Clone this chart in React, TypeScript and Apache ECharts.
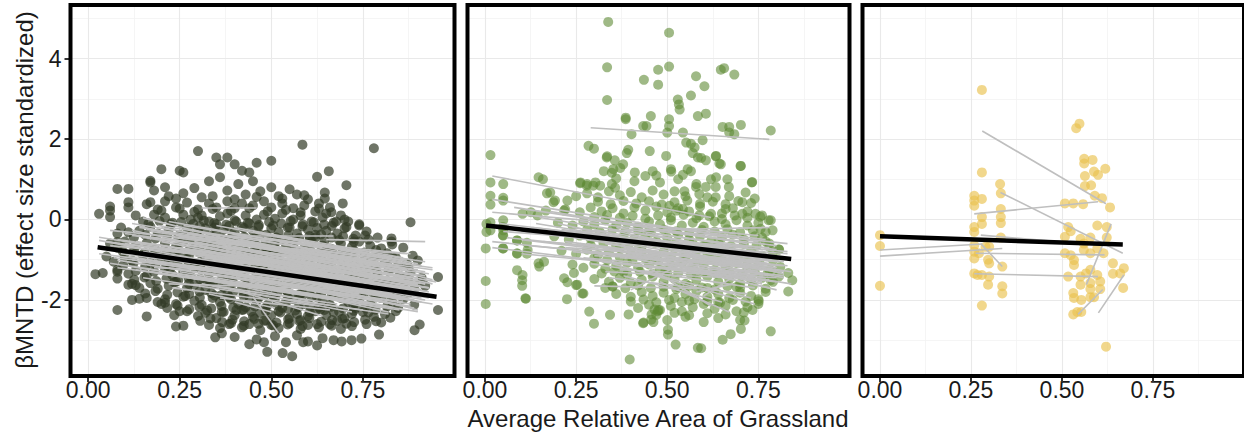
import React, { useEffect, useRef } from "react";
import * as echarts from "echarts";

const X_MIN = -0.048;
const X_MAX = 1.0;
const Y_MIN = -3.89;
const Y_MAX = 5.33;
const X_TICKS = [0, 0.25, 0.5, 0.75];
const X_MINOR = [0.125, 0.375, 0.625, 0.875];
const Y_TICKS = [-2, 0, 2, 4];
const Y_MINOR = [-3, -1, 1, 3, 5];
const Y_TITLE = "βMNTD (effect size standardized)";
const X_TITLE = "Average Relative Area of Grassland";

// Panel 1 points (dark olive)
const P1_POINTS: [number, number][] = [
  [0.03,0.14],[0.02,-1.36],[0.04,-1.33],[0.06,0.32],[0.06,0.22],[0.06,0.06],[0.08,0.76],[0.08,-0.35],[0.08,-0.56],[0.08,-2.25],
  [0.08,-1.30],[0.08,-1.47],[0.11,0.76],[0.11,0.43],[0.11,0.30],[0.12,-2.0],[0.14,-1.97],[0.13,-1.63],[0.12,-1.60],[0.16,-2.41],
  [0.17,0.96],[0.17,0.92],[0.17,0.43],[0.18,0.72],[0.2,1.25],[0.21,0.80],[0.25,1.21],[0.26,1.17],[0.30,1.70],[0.235,-2.38],
  [0.25,-2.28],[0.24,-2.66],[0.26,-2.64],[0.20,-2.10],[0.21,-2.07],[0.35,1.54],[0.36,1.37],[0.38,1.54],[0.40,1.37],[0.42,1.21],
  [0.44,1.17],[0.46,1.41],[0.50,1.46],[0.585,1.86],[0.78,1.77],[0.625,1.06],[0.657,1.20],[0.705,0.85],[0.695,0.40],[0.74,-0.12],
  [0.70,0.0],[0.88,-0.07],[0.886,-0.90],[0.955,-1.43],[0.955,-2.25],[0.891,-2.75],[0.905,-2.61],[0.794,-2.86],[0.692,-3.03],[0.719,-3.0],
  [0.746,-2.96],[0.489,-3.29],[0.531,-3.32],[0.557,-3.40],[0.44,-3.10],[0.347,-2.93],[0.365,-2.83],[0.587,-3.05],[0.625,-3.13],[0.60,-3.03],
  [0.86,-1.67],[0.87,-1.42],[0.828,-0.47],[0.828,-0.55],[0.646,0.67],[0.646,0.52],[0.664,0.18],[0.80,-2.56],[0.825,-2.44],[0.83,-0.93],
  [0.33,0.95],[0.36,1.05],[0.38,0.72],[0.41,0.88],[0.43,0.62],[0.45,0.95],[0.47,0.70],[0.50,0.80],[0.52,0.58],[0.55,0.75],
  [0.57,0.62],[0.26,0.65],[0.29,0.78],[0.31,0.55],[0.22,0.58],[0.60,0.50],[0.63,0.40],[0.66,0.30],
  [0.16,0.38],[0.19,0.25],[0.21,0.45],[0.24,0.30],[0.27,0.42],[0.30,0.25],[0.33,0.40],[0.35,0.30],[0.38,0.45],[0.40,0.28],
  [0.42,0.40],[0.45,0.35],[0.48,0.45],[0.50,0.30],[0.53,0.40],[0.56,0.28],[0.59,0.35],[0.62,0.20],[0.65,0.15],[0.69,0.10],
  [0.13,0.10],[0.15,-0.05],[0.18,0.12],[0.21,0.05],[0.23,-0.08],[0.26,0.12],[0.28,0.0],[0.31,0.10],[0.33,-0.05],[0.36,0.08],
  [0.38,0.15],[0.40,-0.02],[0.43,0.10],[0.46,0.0],[0.48,0.12],[0.51,0.02],[0.53,0.15],[0.56,0.0],[0.58,0.10],[0.61,-0.05],
  [0.64,0.05],[0.67,-0.08],[0.71,-0.05],[0.74,-0.15],
  [0.09,-0.20],[0.11,-0.32],[0.14,-0.28],[0.17,-0.18],[0.19,-0.35],[0.22,-0.25],[0.25,-0.38],[0.27,-0.20],[0.30,-0.30],[0.32,-0.22],
  [0.35,-0.35],[0.37,-0.25],[0.40,-0.32],[0.42,-0.18],[0.45,-0.28],[0.47,-0.38],[0.50,-0.22],[0.52,-0.32],[0.55,-0.20],[0.57,-0.35],
  [0.60,-0.25],[0.62,-0.38],[0.65,-0.28],[0.68,-0.35],[0.70,-0.22],[0.73,-0.40],[0.76,-0.30],[0.79,-0.45],
  [0.06,-0.60],[0.08,-0.70],[0.10,-0.55],[0.13,-0.65],[0.16,-0.58],[0.18,-0.72],[0.21,-0.60],[0.24,-0.68],[0.26,-0.55],[0.29,-0.70],
  [0.31,-0.62],[0.34,-0.55],[0.36,-0.72],[0.39,-0.60],[0.41,-0.68],[0.44,-0.55],[0.46,-0.65],[0.49,-0.72],[0.51,-0.58],[0.54,-0.68],
  [0.56,-0.62],[0.59,-0.72],[0.61,-0.55],[0.64,-0.65],[0.66,-0.72],[0.69,-0.60],[0.72,-0.68],[0.74,-0.55],[0.77,-0.65],[0.80,-0.72],
  [0.83,-0.62],[0.86,-0.70],
  [0.05,-0.92],[0.07,-1.05],[0.10,-0.95],[0.12,-1.02],[0.15,-0.90],[0.17,-1.08],[0.20,-0.95],[0.22,-1.05],[0.25,-0.92],[0.27,-1.00],
  [0.30,-1.10],[0.32,-0.95],[0.35,-1.05],[0.37,-0.90],[0.40,-1.00],[0.42,-1.10],[0.45,-0.95],[0.47,-1.05],[0.50,-0.90],[0.52,-1.02],
  [0.55,-1.10],[0.57,-0.95],[0.60,-1.05],[0.62,-0.92],[0.65,-1.08],[0.67,-0.98],[0.70,-1.05],[0.72,-0.92],[0.75,-1.10],[0.78,-0.98],
  [0.81,-1.05],[0.84,-0.95],[0.87,-1.10],[0.90,-1.02],
  [0.08,-1.25],[0.11,-1.35],[0.13,-1.28],[0.16,-1.40],[0.18,-1.30],[0.21,-1.22],[0.23,-1.38],[0.26,-1.30],[0.28,-1.42],[0.31,-1.25],
  [0.33,-1.35],[0.36,-1.28],[0.38,-1.40],[0.41,-1.30],[0.43,-1.22],[0.46,-1.38],[0.48,-1.30],[0.51,-1.42],[0.53,-1.25],[0.56,-1.35],
  [0.58,-1.28],[0.61,-1.40],[0.63,-1.30],[0.66,-1.22],[0.68,-1.38],[0.71,-1.30],[0.73,-1.42],[0.76,-1.25],[0.79,-1.35],[0.82,-1.28],
  [0.85,-1.40],[0.88,-1.32],[0.91,-1.45],
  [0.11,-1.62],[0.14,-1.70],[0.17,-1.58],[0.19,-1.72],[0.22,-1.65],[0.24,-1.55],[0.27,-1.70],[0.29,-1.62],[0.32,-1.75],[0.34,-1.60],
  [0.37,-1.68],[0.39,-1.58],[0.42,-1.72],[0.44,-1.65],[0.47,-1.55],[0.49,-1.70],[0.52,-1.62],[0.54,-1.75],[0.57,-1.60],[0.59,-1.68],
  [0.62,-1.58],[0.64,-1.72],[0.67,-1.65],[0.69,-1.55],[0.72,-1.70],[0.74,-1.62],[0.77,-1.75],[0.80,-1.60],[0.83,-1.68],[0.86,-1.58],
  [0.89,-1.72],[0.92,-1.65],
  [0.16,-1.95],[0.19,-2.05],[0.21,-1.98],[0.24,-2.10],[0.26,-1.92],[0.29,-2.02],[0.31,-2.12],[0.34,-1.95],[0.36,-2.05],[0.39,-1.98],
  [0.41,-2.10],[0.44,-1.92],[0.46,-2.02],[0.49,-2.12],[0.51,-1.95],[0.54,-2.05],[0.56,-1.98],[0.59,-2.10],[0.61,-1.92],[0.64,-2.02],
  [0.66,-2.12],[0.69,-1.95],[0.71,-2.05],[0.74,-1.98],[0.77,-2.10],[0.80,-1.95],[0.83,-2.05],[0.86,-1.98],[0.89,-2.12],
  [0.27,-2.28],[0.30,-2.40],[0.32,-2.32],[0.35,-2.45],[0.37,-2.30],[0.40,-2.38],[0.42,-2.25],[0.45,-2.42],[0.47,-2.32],[0.50,-2.38],
  [0.52,-2.28],[0.55,-2.45],[0.57,-2.35],[0.60,-2.40],[0.62,-2.28],[0.65,-2.38],[0.67,-2.30],[0.70,-2.45],[0.72,-2.35],[0.75,-2.30],
  [0.78,-2.42],[0.81,-2.35],[0.84,-2.28],
  [0.33,-2.62],[0.36,-2.70],[0.39,-2.58],[0.42,-2.68],[0.44,-2.60],[0.47,-2.75],[0.50,-2.62],[0.52,-2.70],[0.55,-2.58],[0.58,-2.72],
  [0.60,-2.62],[0.63,-2.68],[0.66,-2.60],[0.69,-2.72],[0.72,-2.65],[0.76,-2.60],
  [0.40,-2.92],[0.46,-2.98],[0.51,-2.90],[0.54,-3.05],[0.57,-2.88],[0.64,-2.95],[0.67,-3.00],[0.48,-3.05],
  [0.30,0.05],[0.35,-0.12],[0.44,-0.10],[0.49,-0.45],[0.39,-0.48],[0.55,-0.50],[0.62,-0.45],[0.34,-0.82],[0.43,-0.80],[0.53,-0.82],
  [0.64,-0.85],[0.29,-1.18],[0.39,-1.15],[0.49,-1.18],[0.59,-1.15],[0.70,-1.18],[0.33,-1.52],[0.45,-1.50],[0.55,-1.48],[0.66,-1.50],
  [0.76,-1.52],[0.38,-1.85],[0.48,-1.82],[0.58,-1.85],[0.68,-1.82],[0.78,-1.85],[0.43,-2.18],[0.53,-2.20],[0.63,-2.18],[0.73,-2.20],
  [0.48,-2.52],[0.58,-2.50],[0.68,-2.52],
  [0.20,0.22],[0.25,0.27],[0.29,0.19],[0.34,0.26],[0.39,0.21],[0.44,0.28],[0.49,0.20],[0.54,0.24],[0.58,0.18],[0.63,0.27],
  [0.165,-0.10],[0.195,-0.04],[0.226,-0.12],[0.254,-0.06],[0.287,-0.11],[0.316,-0.03],[0.344,-0.09],[0.377,-0.13],[0.404,-0.05],[0.436,-0.08],
  [0.466,-0.14],[0.494,-0.06],[0.527,-0.10],[0.553,-0.04],[0.586,-0.12],[0.616,-0.07],[0.644,-0.13],[0.677,-0.05],
  [0.125,-0.45],[0.156,-0.38],[0.184,-0.47],[0.216,-0.40],[0.246,-0.44],[0.274,-0.37],[0.306,-0.46],[0.334,-0.41],[0.366,-0.48],[0.394,-0.39],
  [0.426,-0.43],[0.455,-0.47],[0.486,-0.38],[0.514,-0.45],[0.546,-0.40],[0.576,-0.46],[0.604,-0.41],[0.636,-0.37],[0.664,-0.45],[0.696,-0.42],
  [0.724,-0.48],[0.756,-0.40],
  [0.095,-0.80],[0.126,-0.74],[0.154,-0.83],[0.186,-0.77],[0.214,-0.82],[0.246,-0.75],[0.274,-0.79],[0.306,-0.84],[0.334,-0.76],[0.366,-0.81],
  [0.394,-0.74],[0.426,-0.85],[0.454,-0.78],[0.486,-0.82],[0.514,-0.75],[0.546,-0.80],[0.574,-0.84],[0.606,-0.77],[0.634,-0.81],[0.666,-0.74],
  [0.694,-0.83],[0.726,-0.78],[0.754,-0.82],[0.786,-0.76],[0.816,-0.84],
  [0.096,-1.14],[0.124,-1.08],[0.156,-1.17],[0.184,-1.11],[0.216,-1.15],[0.244,-1.09],[0.276,-1.13],[0.304,-1.18],[0.336,-1.10],[0.364,-1.14],
  [0.396,-1.07],[0.424,-1.16],[0.456,-1.12],[0.484,-1.09],[0.516,-1.17],[0.544,-1.11],[0.576,-1.15],[0.604,-1.08],[0.636,-1.13],[0.664,-1.18],
  [0.696,-1.10],[0.724,-1.14],[0.756,-1.08],[0.784,-1.16],[0.816,-1.11],[0.846,-1.15],[0.874,-1.19],
  [0.126,-1.50],[0.154,-1.44],[0.186,-1.53],[0.214,-1.47],[0.246,-1.51],[0.274,-1.45],[0.306,-1.49],[0.334,-1.54],[0.366,-1.46],[0.394,-1.50],
  [0.426,-1.43],[0.454,-1.52],[0.486,-1.48],[0.514,-1.45],[0.546,-1.53],[0.574,-1.47],[0.606,-1.51],[0.634,-1.44],[0.666,-1.49],[0.694,-1.54],
  [0.726,-1.46],[0.754,-1.50],[0.786,-1.44],[0.814,-1.52],[0.846,-1.47],[0.874,-1.51],[0.906,-1.55],
  [0.156,-1.84],[0.184,-1.78],[0.216,-1.87],[0.244,-1.81],[0.276,-1.85],[0.304,-1.79],[0.336,-1.83],[0.364,-1.88],[0.396,-1.80],[0.424,-1.84],
  [0.456,-1.77],[0.484,-1.86],[0.516,-1.82],[0.544,-1.79],[0.576,-1.87],[0.604,-1.81],[0.636,-1.85],[0.664,-1.78],[0.696,-1.83],[0.724,-1.88],
  [0.756,-1.80],[0.784,-1.84],[0.816,-1.78],[0.846,-1.86],[0.874,-1.82],
  [0.216,-2.20],[0.244,-2.14],[0.276,-2.23],[0.304,-2.17],[0.336,-2.21],[0.364,-2.15],[0.396,-2.19],[0.424,-2.24],[0.456,-2.16],[0.484,-2.20],
  [0.516,-2.13],[0.546,-2.22],[0.574,-2.18],[0.606,-2.15],[0.634,-2.23],[0.664,-2.17],[0.696,-2.21],[0.724,-2.14],[0.756,-2.19],[0.784,-2.24],
  [0.816,-2.16],[0.846,-2.20],
  [0.306,-2.52],[0.334,-2.46],[0.366,-2.55],[0.394,-2.49],[0.426,-2.53],[0.454,-2.47],[0.486,-2.51],[0.514,-2.56],[0.546,-2.48],[0.576,-2.52],
  [0.604,-2.45],[0.636,-2.54],[0.666,-2.50],[0.694,-2.47],[0.726,-2.55],[0.756,-2.49],[0.786,-2.53],
  [0.24,0.52],[0.34,0.58],[0.40,0.50],[0.46,0.56],[0.53,0.52],[0.59,0.60],
  [0.305,-0.17],[0.345,-0.20],[0.385,-0.16],[0.425,-0.21],[0.465,-0.18],[0.505,-0.15],[0.545,-0.20],[0.585,-0.17],[0.625,-0.21],[0.665,-0.16],[0.705,-0.19],
  [0.285,-0.50],[0.325,-0.54],[0.365,-0.49],[0.405,-0.53],[0.445,-0.51],[0.485,-0.56],[0.525,-0.50],[0.565,-0.54],[0.605,-0.49],[0.645,-0.53],
  [0.685,-0.51],[0.725,-0.55],[0.765,-0.50],
  [0.235,-0.86],[0.275,-0.90],[0.315,-0.85],[0.355,-0.89],[0.395,-0.87],[0.435,-0.91],[0.475,-0.86],[0.515,-0.90],[0.555,-0.85],[0.595,-0.89],
  [0.635,-0.87],[0.675,-0.91],[0.715,-0.86],[0.755,-0.90],[0.795,-0.88],
  [0.225,-1.20],[0.265,-1.24],[0.305,-1.19],[0.345,-1.23],[0.385,-1.21],[0.425,-1.25],[0.465,-1.20],[0.505,-1.24],[0.545,-1.19],[0.585,-1.23],
  [0.625,-1.21],[0.665,-1.25],[0.705,-1.20],[0.745,-1.24],[0.785,-1.19],[0.825,-1.23],
  [0.235,-1.56],[0.275,-1.60],[0.315,-1.55],[0.355,-1.59],[0.395,-1.57],[0.435,-1.61],[0.475,-1.56],[0.515,-1.60],[0.555,-1.55],[0.595,-1.59],
  [0.635,-1.57],[0.675,-1.61],[0.715,-1.56],[0.755,-1.60],[0.795,-1.55],[0.835,-1.59],
  [0.265,-1.90],[0.305,-1.94],[0.345,-1.89],[0.385,-1.93],[0.425,-1.91],[0.465,-1.95],[0.505,-1.90],[0.545,-1.94],[0.585,-1.89],[0.625,-1.93],
  [0.665,-1.91],[0.705,-1.95],[0.745,-1.90],[0.785,-1.94],[0.825,-1.89],
  [0.325,-2.26],[0.365,-2.30],[0.405,-2.25],[0.445,-2.29],[0.485,-2.27],[0.525,-2.31],[0.565,-2.26],[0.605,-2.30],[0.645,-2.25],[0.685,-2.29],
  [0.725,-2.27],[0.765,-2.31],
  [0.385,-2.60],[0.425,-2.64],[0.465,-2.59],[0.505,-2.63],[0.545,-2.61],[0.585,-2.65],[0.625,-2.60],[0.665,-2.64],[0.705,-2.59]
];

// Panel 2 points (green)
const P2_POINTS: [number, number][] = [
  [0.338,4.91],[0.505,4.64],[0.335,3.78],[0.505,3.80],[0.335,2.97],[0.475,3.72],[0.436,3.47],[0.475,3.35],[0.579,3.56],[0.602,3.31],
  [0.565,3.08],[0.647,3.72],[0.656,3.76],[0.684,3.60],[0.529,2.98],[0.532,2.86],[0.534,2.73],[0.455,2.57],[0.386,2.53],[0.386,2.49],
  [0.584,2.57],[0.606,2.63],[0.434,2.32],[0.443,2.32],[0.505,2.49],[0.505,2.32],[0.50,2.16],[0.402,2.12],[0.652,2.30],[0.67,2.30],
  [0.702,2.35],[0.784,2.21],[0.67,2.16],[0.684,2.12],[0.284,1.83],[0.299,1.76],[0.393,1.73],[0.452,1.70],[0.543,2.16],[0.552,1.91],
  [0.565,1.88],[0.575,1.79],[0.597,1.97],[0.015,1.60],[0.497,1.58],[0.584,1.54],[0.606,1.47],[0.634,1.58],[0.702,1.33],[0.643,1.39],
  [0.334,1.54],[0.356,1.47],[0.379,1.37],[0.352,1.25],[0.411,1.17],[0.47,1.09],[0.556,1.25],[0.732,0.92],[0.634,1.05],
  [0.015,0.92],[0.015,0.59],[0.015,0.37],[0.05,0.88],[0.05,0.54],[0.05,0.47],[0.147,1.05],[0.159,1.0],[0.179,0.67],[0.188,0.43],
  [0.261,0.90],[0.279,0.84],[0.297,0.84],[0.015,-0.07],[0.015,-0.27],[0.05,-0.02],[0.05,-0.27],[0.05,-0.40],[0.05,-0.72],
  [0.002,-0.72],[0.002,-1.53],[0.002,-2.10],[0.111,-1.96],[0.102,-1.51],[0.102,-1.65],[0.088,-1.26],[0.088,-0.52],[0.088,-0.85],
  [0.115,-0.58],[0.115,-0.85],[0.147,-1.09],[0.225,-1.98],[0.25,-1.63],[0.27,-1.84],[0.286,-2.29],[0.299,-2.59],[0.343,-2.37],
  [0.397,-3.48],[0.434,-2.58],[0.456,-2.49],[0.502,-2.74],[0.502,-2.86],[0.523,-3.11],[0.584,-3.19],[0.593,-3.20],[0.652,-2.99],
  [0.674,-2.85],[0.702,-2.72],[0.784,-2.78],[0.734,-2.25],[0.784,-0.02],[0.807,-0.75],[0.832,-1.33],[0.843,-1.51],[0.832,-1.79],
  [0.784,-1.51],[0.712,-2.51],[0.79,-1.29],[0.806,-1.42],[0.465,-2.24],[0.474,-2.28],[0.751,-2.03],[0.112,-1.97],[0.103,-1.38],
  [0.394,-2.36],[0.435,-2.56],[0.462,-2.55],[0.457,-2.36],[0.476,-2.25],[0.217,-1.46],[0.244,-1.33],[0.226,-1.56],[0.253,-1.62],
  [0.267,-1.84],[0.149,-1.17],[0.162,-1.05],[0.35,-1.67],[0.33,-1.70],[0.17,0.65],[0.192,0.47],[0.226,0.47],[0.167,0.22],
  [0.217,0.22],[0.103,0.14],[0.126,0.18],[0.144,0.10],[0.004,-0.11],[0.004,-0.31],[0.049,-0.19],[0.049,-0.39],[0.088,-0.52],
  [0.117,-0.76],[0.049,-0.72],[0.088,-0.84],[0.262,0.92],[0.28,0.88],[0.303,0.92],[0.316,0.84],[0.348,0.88],[0.357,0.79],
  [0.326,1.20],[0.348,1.16],[0.371,1.28],[0.335,1.57],[0.389,1.65],[0.57,1.65],[0.593,1.53],[0.633,1.57],[0.647,1.37],[0.701,1.33],
  [0.511,1.19],[0.543,1.11],[0.565,1.20],[0.62,1.0],[0.665,1.0],[0.733,0.93],[0.715,0.67],[0.579,0.81],[0.606,0.81],[0.633,0.81],
  [0.669,0.81],[0.547,0.70],[0.588,0.63],[0.633,0.55],[0.706,0.43],[0.742,0.14],[0.706,0.14],[0.778,-0.02],[0.789,-0.27],
  [0.756,-0.23],[0.76,-0.45],[0.806,-0.74],[0.78,-0.68],[0.66,0.26],[0.62,0.14],[0.588,0.10],[0.543,0.26],[0.525,0.22],[0.506,0.34],
  [0.36,1.02],[0.41,0.95],[0.44,1.08],[0.48,0.92],[0.53,1.0],[0.58,0.88],[0.46,1.20],[0.51,1.25],
  [0.25,0.58],[0.28,0.65],[0.31,0.55],[0.34,0.70],[0.37,0.60],[0.40,0.68],[0.43,0.55],[0.46,0.72],[0.49,0.62],[0.52,0.70],
  [0.55,0.58],[0.61,0.55],[0.67,0.58],[0.74,0.52],
  [0.22,0.25],[0.26,0.18],[0.29,0.30],[0.32,0.20],[0.35,0.28],[0.38,0.15],[0.41,0.30],[0.44,0.22],[0.47,0.32],[0.50,0.18],
  [0.53,0.28],[0.56,0.20],[0.59,0.32],[0.65,0.15],[0.68,0.28],[0.72,0.20],[0.76,0.10],
  [0.20,-0.08],[0.24,-0.15],[0.27,-0.05],[0.30,-0.12],[0.33,-0.02],[0.36,-0.15],[0.39,-0.08],[0.42,-0.18],[0.45,-0.05],[0.48,-0.12],
  [0.51,-0.02],[0.54,-0.15],[0.57,-0.08],[0.60,-0.18],[0.63,-0.05],[0.66,-0.12],[0.69,-0.02],[0.72,-0.15],[0.75,-0.08],
  [0.19,-0.42],[0.23,-0.50],[0.26,-0.40],[0.29,-0.48],[0.32,-0.38],[0.35,-0.52],[0.38,-0.42],[0.41,-0.48],[0.44,-0.40],[0.47,-0.55],
  [0.50,-0.45],[0.53,-0.38],[0.56,-0.50],[0.59,-0.42],[0.62,-0.55],[0.65,-0.45],[0.68,-0.38],[0.71,-0.50],[0.74,-0.42],[0.77,-0.55],
  [0.21,-0.78],[0.25,-0.85],[0.28,-0.75],[0.31,-0.88],[0.34,-0.80],[0.37,-0.72],[0.40,-0.85],[0.43,-0.78],[0.46,-0.90],[0.49,-0.80],
  [0.52,-0.72],[0.55,-0.85],[0.58,-0.78],[0.61,-0.90],[0.64,-0.80],[0.67,-0.72],[0.70,-0.85],[0.73,-0.78],[0.76,-0.90],[0.79,-0.82],
  [0.24,-1.12],[0.27,-1.20],[0.30,-1.10],[0.33,-1.22],[0.36,-1.15],[0.39,-1.08],[0.42,-1.20],[0.45,-1.12],[0.48,-1.25],[0.51,-1.15],
  [0.54,-1.08],[0.57,-1.20],[0.60,-1.12],[0.63,-1.25],[0.66,-1.15],[0.69,-1.08],[0.72,-1.20],[0.75,-1.12],[0.78,-1.25],[0.81,-1.18],
  [0.30,-1.48],[0.34,-1.55],[0.37,-1.45],[0.40,-1.58],[0.43,-1.50],[0.46,-1.42],[0.49,-1.55],[0.52,-1.48],[0.55,-1.60],[0.58,-1.50],
  [0.61,-1.42],[0.64,-1.55],[0.67,-1.48],[0.70,-1.60],[0.73,-1.50],[0.76,-1.45],[0.79,-1.55],
  [0.36,-1.85],[0.40,-1.92],[0.43,-1.80],[0.46,-1.90],[0.49,-1.82],[0.52,-1.95],[0.55,-1.85],[0.58,-1.78],[0.61,-1.92],[0.64,-1.85],
  [0.67,-1.95],[0.70,-1.82],[0.73,-1.90],[0.77,-1.80],
  [0.42,-2.20],[0.45,-2.12],[0.48,-2.25],[0.51,-2.15],[0.54,-2.28],[0.57,-2.18],[0.60,-2.10],[0.63,-2.22],[0.66,-2.15],[0.69,-2.28],
  [0.72,-2.18],[0.75,-2.10],[0.50,-2.50],[0.55,-2.42],[0.60,-2.55],[0.64,-2.45],[0.70,-2.50],
  [0.45,-0.28],[0.52,-0.62],[0.60,-0.65],[0.47,-1.00],[0.55,-0.98],[0.63,-1.00],[0.50,-1.35],[0.58,-1.32],[0.66,-1.35],[0.53,-1.68],
  [0.61,-1.70],[0.69,-1.68],[0.56,-2.02],[0.64,-2.05],[0.42,-0.60],[0.38,-1.30],
  [0.31,0.44],[0.345,0.38],[0.38,0.46],[0.415,0.40],[0.45,0.45],[0.485,0.37],[0.52,0.43],[0.555,0.47],[0.59,0.39],[0.625,0.44],
  [0.66,0.38],[0.695,0.46],[0.73,0.41],
  [0.30,0.06],[0.335,0.11],[0.37,0.04],[0.405,0.09],[0.44,0.02],[0.475,0.10],[0.51,0.05],[0.545,0.12],[0.58,0.03],[0.615,0.08],
  [0.65,0.01],[0.685,0.10],[0.72,0.04],[0.755,0.07],
  [0.28,-0.26],[0.315,-0.31],[0.35,-0.24],[0.385,-0.30],[0.42,-0.27],[0.455,-0.33],[0.49,-0.25],[0.525,-0.29],[0.56,-0.34],[0.595,-0.26],
  [0.63,-0.30],[0.665,-0.24],[0.70,-0.32],[0.735,-0.27],[0.77,-0.31],
  [0.29,-0.64],[0.325,-0.59],[0.36,-0.66],[0.395,-0.60],[0.43,-0.65],[0.465,-0.58],[0.50,-0.63],[0.535,-0.67],[0.57,-0.60],[0.605,-0.64],
  [0.64,-0.58],[0.675,-0.66],[0.71,-0.61],[0.745,-0.65],[0.78,-0.60],
  [0.30,-0.96],[0.335,-1.01],[0.37,-0.94],[0.405,-1.00],[0.44,-0.97],[0.475,-1.03],[0.51,-0.95],[0.545,-0.99],[0.58,-1.04],[0.615,-0.96],
  [0.65,-1.00],[0.685,-0.94],[0.72,-1.02],[0.755,-0.97],[0.79,-1.01],
  [0.32,-1.34],[0.355,-1.29],[0.39,-1.36],[0.425,-1.30],[0.46,-1.35],[0.495,-1.28],[0.53,-1.33],[0.565,-1.37],[0.60,-1.30],[0.635,-1.34],
  [0.67,-1.28],[0.705,-1.36],[0.74,-1.31],[0.775,-1.35],
  [0.35,-1.66],[0.385,-1.71],[0.42,-1.64],[0.455,-1.70],[0.49,-1.67],[0.525,-1.73],[0.56,-1.65],[0.595,-1.69],[0.63,-1.74],[0.665,-1.66],
  [0.70,-1.70],[0.735,-1.64],[0.77,-1.72],
  [0.40,-2.04],[0.435,-1.99],[0.47,-2.06],[0.505,-2.00],[0.54,-2.05],[0.575,-1.98],[0.61,-2.03],[0.645,-2.07],[0.68,-2.00],[0.715,-2.04],
  [0.75,-1.98],[0.47,-2.37],[0.52,-2.32],[0.56,-2.38],[0.61,-2.33],[0.66,-2.36],[0.71,-2.31]
];

// Panel 3 points (yellow)
const P3_POINTS: [number, number][] = [
  [0.0,-0.39],[0.0,-0.66],[0.0,-1.65],
  [0.28,3.22],[0.28,1.17],[0.259,0.59],[0.259,0.47],[0.259,0.34],[0.28,0.51],[0.33,0.88],[0.332,0.65],[0.332,0.26],[0.332,0.06],
  [0.332,-0.09],[0.259,-0.19],[0.259,-0.31],[0.28,0.06],[0.28,-0.11],[0.259,-0.64],[0.259,-0.80],[0.259,-0.97],[0.272,-0.84],
  [0.29,-0.68],[0.30,-0.68],[0.297,-1.0],[0.30,-1.09],[0.332,-0.45],[0.336,-1.17],[0.259,-1.34],[0.268,-1.38],[0.28,-1.38],
  [0.30,-1.42],[0.297,-1.62],[0.336,-1.66],[0.336,-1.84],[0.28,-2.14],
  [0.539,2.27],[0.548,2.38],[0.561,1.51],[0.561,1.39],[0.584,1.48],[0.563,1.08],[0.588,1.19],[0.599,1.11],[0.619,1.26],[0.563,0.83],
  [0.58,0.85],[0.59,0.59],[0.61,0.53],[0.632,0.30],[0.508,0.40],[0.531,0.40],[0.558,0.38],[0.517,-0.19],[0.524,-0.29],[0.508,-0.43],
  [0.551,-0.48],[0.56,-0.60],[0.578,-0.45],[0.597,-0.15],[0.623,-0.19],[0.623,-0.45],[0.508,-0.84],[0.524,-0.89],[0.533,-1.01],
  [0.533,-1.13],[0.56,-0.76],[0.578,-0.84],[0.597,-0.72],[0.614,-0.84],[0.64,-1.09],[0.67,-1.21],[0.64,-1.35],[0.66,-1.34],
  [0.517,-1.42],[0.551,-1.42],[0.551,-1.62],[0.578,-1.58],[0.597,-1.38],[0.605,-1.54],[0.578,-1.73],[0.668,-1.70],[0.531,-1.83],
  [0.533,-1.95],[0.553,-2.0],[0.578,-1.93],[0.588,-1.93],[0.605,-1.73],[0.531,-2.36],[0.542,-2.30],[0.553,-2.30],[0.621,-3.16],
  [0.566,-1.34],[0.578,-1.25]
];

// Individual gray fits: [x1, y1, x2, y2]
const P1_LINES: [number, number, number, number][] = [
  [0.31,0.29,0.46,0.29],[0.15,0.04,0.89,-1.63],[0.14,-0.17,0.91,-1.75],[0.12,-0.27,0.90,-1.84],[0.03,-0.44,0.91,-1.75],
  [0.03,-0.52,0.89,-2.00],[0.03,-0.85,0.92,-1.92],[0.06,-0.27,0.87,-1.01],[0.38,-0.40,0.67,-0.40],[0.31,-0.35,0.88,-0.85],
  [0.06,-1.09,0.90,-2.29],[0.08,-1.01,0.88,-2.16],[0.11,-0.92,0.85,-1.98],[0.13,-1.25,0.85,-2.25],[0.15,-1.45,0.82,-2.35],
  [0.10,-0.60,0.80,-1.45],[0.18,-0.45,0.85,-1.30],[0.20,-0.20,0.78,-1.20],[0.22,-0.05,0.75,-0.90],[0.25,-0.60,0.88,-1.55],
  [0.28,-0.80,0.84,-1.70],[0.20,-0.90,0.90,-1.50],[0.30,-1.10,0.78,-2.10],[0.33,-1.50,0.60,-2.02],[0.40,-1.75,0.64,-2.40],
  [0.45,-1.92,0.52,-2.82],[0.33,-1.85,0.51,-2.20],[0.18,-1.20,0.70,-1.40],[0.22,-1.60,0.75,-1.75],[0.35,-0.15,0.90,-1.10],
  [0.40,-0.70,0.92,-1.40],[0.50,-0.90,0.93,-1.70],[0.55,-1.10,0.90,-2.05],[0.60,-0.60,0.88,-1.10],[0.65,-0.50,0.92,-0.55],
  [0.70,-0.75,0.87,-0.85],[0.16,-0.70,0.55,-1.10],[0.25,-1.30,0.68,-1.95],[0.42,-1.40,0.86,-2.15],[0.48,-1.65,0.80,-2.20],
  [0.38,-1.05,0.70,-1.75],[0.12,-0.40,0.60,-0.95],[0.28,-0.25,0.72,-1.05],[0.05,-0.75,0.65,-1.40],[0.14,-1.05,0.62,-1.60],
  [0.45,-0.30,0.85,-1.00],[0.52,-0.55,0.94,-1.50],[0.56,-2.00,0.75,-2.25],[0.62,-1.30,0.88,-1.75],[0.35,-0.55,0.82,-1.20],
  [0.40,-2.05,0.50,-2.30],[0.58,-1.55,0.94,-2.10],
  [0.10,-0.35,0.88,-1.35],[0.13,-0.55,0.90,-1.62],[0.15,-0.80,0.86,-1.72],[0.17,-0.30,0.82,-1.10],[0.19,-0.62,0.88,-1.88],
  [0.21,-0.75,0.93,-1.80],[0.23,-1.00,0.91,-2.05],[0.24,-0.40,0.86,-1.45],[0.26,-0.95,0.80,-1.90],[0.27,-1.15,0.89,-2.20],
  [0.29,-0.55,0.92,-1.60],[0.32,-0.70,0.90,-1.80],[0.33,-0.95,0.86,-2.00],[0.34,-1.25,0.83,-2.18],[0.36,-0.30,0.87,-1.25],
  [0.37,-0.85,0.91,-1.95],[0.39,-1.20,0.85,-1.90],[0.41,-0.50,0.88,-1.30],[0.43,-1.00,0.92,-1.85],[0.44,-1.55,0.82,-2.30],
  [0.47,-0.80,0.90,-1.60],[0.49,-1.20,0.88,-1.90],[0.51,-0.40,0.83,-0.95],[0.53,-1.40,0.90,-2.25],[0.57,-0.90,0.93,-1.35],
  [0.08,-0.50,0.52,-1.05],[0.09,-0.85,0.58,-1.45],[0.11,-1.15,0.50,-1.70],[0.14,-0.20,0.56,-0.75],[0.16,-1.00,0.66,-1.80],
  [0.06,-0.65,0.45,-1.00],[0.07,-0.95,0.42,-1.30],[0.19,-1.35,0.60,-1.85],[0.23,-1.70,0.63,-2.15],[0.26,-0.15,0.64,-0.70],
  [0.31,-1.60,0.72,-2.30],[0.36,-1.95,0.66,-2.25],[0.62,-0.85,0.94,-1.25],[0.66,-1.50,0.93,-1.95],[0.68,-1.10,0.95,-1.55],
  [0.12,-0.10,0.86,-1.20],[0.16,-0.25,0.92,-1.30],[0.18,-0.85,0.84,-1.65],[0.20,-0.55,0.80,-1.60],[0.22,-1.20,0.88,-2.10],
  [0.24,-0.70,0.90,-1.45],[0.25,-1.05,0.83,-1.85],[0.27,-0.35,0.85,-1.15],[0.29,-0.90,0.93,-1.70],[0.30,-1.30,0.86,-2.05],
  [0.32,-0.45,0.89,-1.40],[0.34,-0.65,0.78,-1.55],[0.35,-1.15,0.92,-2.00],[0.37,-0.50,0.94,-1.20],[0.38,-1.35,0.80,-2.00],
  [0.40,-0.20,0.86,-0.95],[0.42,-0.90,0.88,-1.55],[0.44,-0.65,0.94,-1.60],[0.46,-1.20,0.91,-1.75],[0.48,-0.45,0.92,-1.05],
  [0.50,-1.35,0.86,-1.95],[0.52,-0.75,0.90,-1.25],[0.54,-1.00,0.88,-1.45],[0.58,-0.70,0.91,-1.15],[0.60,-1.20,0.92,-1.60],
  [0.10,-0.80,0.70,-1.60],[0.12,-1.00,0.74,-1.85],[0.15,-0.45,0.72,-1.25],[0.17,-1.30,0.68,-2.00],[0.19,-0.15,0.70,-0.85],
  [0.21,-0.95,0.76,-1.50],[0.23,-0.45,0.79,-1.05],[0.28,-1.45,0.76,-2.05],[0.05,-0.55,0.60,-1.25],[0.08,-1.20,0.56,-1.75],
  [0.26,-0.75,0.71,-1.30],[0.31,-0.95,0.74,-1.45],[0.34,-1.65,0.68,-2.10],[0.36,-0.95,0.64,-1.35],[0.39,-0.60,0.76,-1.00]
];

const P2_LINES: [number, number, number, number][] = [
  [0.29,2.28,0.78,1.99],[0.02,1.08,0.62,0.05],[0.02,0.50,0.75,-0.55],[0.02,0.18,0.70,-0.35],[0.02,-0.55,0.72,-1.20],
  [0.02,-0.70,0.80,-1.55],[0.10,-0.30,0.78,-1.00],[0.15,0.05,0.80,-0.90],[0.20,-0.10,0.82,-1.35],[0.25,-0.30,0.78,-0.20],
  [0.30,-0.25,0.75,-1.30],[0.35,-0.45,0.80,-1.05],[0.28,-0.60,0.76,-1.60],[0.24,-0.80,0.80,-1.25],[0.30,-0.90,0.70,-1.05],
  [0.38,-0.70,0.82,-1.45],[0.40,-0.95,0.78,-1.70],[0.35,-1.10,0.74,-2.10],[0.45,-1.20,0.62,-2.15],[0.38,-1.40,0.65,-2.05],
  [0.48,-1.55,0.67,-2.30],[0.30,-1.65,0.60,-1.72],[0.44,-0.15,0.75,-0.40],[0.46,-0.35,0.80,-0.75],[0.50,-0.55,0.78,-0.70],
  [0.55,-0.80,0.84,-0.95],[0.20,-0.40,0.55,-0.65],[0.12,-0.65,0.48,-0.95],[0.05,-0.30,0.42,-0.55],[0.40,-1.75,0.55,-1.05],
  [0.60,-1.90,0.72,-1.20],[0.36,-0.20,0.72,-0.70],[0.42,-0.45,0.80,-1.15],[0.50,-0.85,0.82,-1.30],[0.33,-1.30,0.78,-1.50],
  [0.55,-1.35,0.76,-1.25],[0.58,-1.80,0.68,-1.60],
  [0.04,-0.10,0.70,-0.80],[0.06,-0.45,0.76,-1.10],[0.08,0.30,0.66,-0.50],[0.10,-0.85,0.74,-1.40],[0.13,-0.20,0.79,-0.90],
  [0.16,-0.55,0.83,-1.15],[0.18,0.20,0.72,-0.60],[0.22,-0.70,0.81,-1.05],[0.26,-0.05,0.80,-0.65],[0.27,-0.95,0.76,-1.35],
  [0.31,-0.50,0.83,-0.85],[0.33,-0.75,0.79,-1.25],[0.35,-0.05,0.77,-0.50],[0.37,-0.95,0.82,-1.15],[0.39,-0.30,0.81,-0.95],
  [0.41,-1.15,0.79,-1.40],[0.43,-0.60,0.84,-1.00],[0.45,-0.85,0.80,-1.30],[0.47,-1.05,0.76,-1.55],[0.32,-1.05,0.70,-1.45],
  [0.25,-0.45,0.68,-1.00],[0.21,-0.25,0.62,-0.70],[0.52,-0.30,0.83,-0.60],[0.34,-1.45,0.72,-1.85],[0.50,-1.10,0.80,-1.75],
  [0.22,-0.55,0.80,-1.20],[0.24,-0.20,0.74,-0.85],[0.28,-0.80,0.82,-1.40],[0.30,-0.40,0.78,-1.10],[0.33,-0.60,0.84,-1.30],
  [0.36,-0.85,0.77,-1.45],[0.38,-0.45,0.83,-0.80],[0.40,-0.70,0.80,-1.20],[0.42,-1.00,0.84,-1.60],[0.44,-0.35,0.78,-0.95],
  [0.46,-0.55,0.82,-1.05],[0.48,-0.80,0.78,-1.10],[0.34,-0.25,0.70,-0.95],[0.29,-1.10,0.74,-1.70],[0.26,-0.60,0.66,-1.25],
  [0.18,-0.35,0.70,-1.15],[0.14,-0.10,0.64,-0.85],[0.10,-0.50,0.60,-1.05],[0.37,-1.25,0.80,-1.45],[0.43,-1.30,0.73,-1.95]
];

const P3_LINES: [number, number, number, number][] = [
  [0.281,2.20,0.621,0.39],[0.331,0.67,0.667,-0.84],[0.259,0.14,0.599,0.44],[0.0,-0.91,0.336,-0.72],[0.0,-0.76,0.281,-0.61],
  [0.277,-0.39,0.612,-0.64],[0.263,-0.84,0.617,-0.88],[0.259,-1.35,0.599,-1.42],[0.277,-0.60,0.336,-1.17],[0.567,-1.62,0.635,-0.11],
  [0.544,-2.36,0.612,-1.74],[0.60,-2.32,0.67,-1.38]
];

// Overall black fits per panel: [x1, y1, x2, y2]
const FIT_LINES: [number, number, number, number][] = [
  [0.026,-0.69,0.951,-1.92],
  [0.003,-0.15,0.84,-0.98],
  [0.0,-0.42,0.667,-0.62]
];

const PANEL_POINTS = [P1_POINTS, P2_POINTS, P3_POINTS];
const PANEL_LINES = [P1_LINES, P2_LINES, P3_LINES];
const POINT_COLORS = ["#323b26", "#5f8b35", "#e9c24f"];
const POINT_OPACITY = [0.7, 0.6, 0.65];

const FONT = "Liberation Sans, Arial, Helvetica, sans-serif";
const GRIDS = [
  { left: 70.5, top: 5, width: 384, height: 371 },
  { left: 467.5, top: 5, width: 382, height: 371 },
  { left: 862.5, top: 5, width: 386, height: 371 }
];

function segs(list: [number, number, number, number][]) {
  return list.map((s) => ({ coords: [[s[0], s[1]], [s[2], s[3]]] }));
}

function gridLines(xs: number[], ys: number[]) {
  return [
    ...xs.map((x) => ({ coords: [[x, Y_MIN], [x, Y_MAX]] })),
    ...ys.map((y) => ({ coords: [[X_MIN, y], [X_MAX, y]] }))
  ];
}

function textEl(text: string, x: number, y: number, align: string, vAlign: string, size: number, extra: any = {}) {
  return {
    type: "text", x, y, silent: true, ...extra,
    style: { text, fill: "#1a1a1a", font: `${size}px ${FONT}`, align, verticalAlign: vAlign, textAlign: align, textVerticalAlign: vAlign }
  };
}

export default function App() {
  const ref = useRef<HTMLDivElement>(null);
  useEffect(() => {
    document.body.style.margin = "0";
    if (!ref.current) return;
    const chart = echarts.init(ref.current, undefined, { renderer: "svg" });

    const series: any[] = [];
    for (let i = 0; i < 3; i++) {
      series.push({
        type: "lines", coordinateSystem: "cartesian2d", xAxisIndex: i, yAxisIndex: i, z: 1, silent: true,
        lineStyle: { color: "#f2f2f2", width: 0.8, opacity: 1 }, data: gridLines(X_MINOR, Y_MINOR)
      });
      series.push({
        type: "lines", coordinateSystem: "cartesian2d", xAxisIndex: i, yAxisIndex: i, z: 1, silent: true,
        lineStyle: { color: "#e9e9e9", width: 1.1, opacity: 1 }, data: gridLines(X_TICKS, Y_TICKS)
      });
      series.push({
        type: "scatter", xAxisIndex: i, yAxisIndex: i, z: 2, silent: true,
        symbolSize: 10, itemStyle: { color: POINT_COLORS[i], opacity: POINT_OPACITY[i], borderWidth: 0 },
        data: PANEL_POINTS[i]
      });
      series.push({
        type: "lines", coordinateSystem: "cartesian2d", xAxisIndex: i, yAxisIndex: i, z: 3, silent: true,
        lineStyle: { color: "#bfbfbf", width: 1.6, opacity: 1 }, data: segs(PANEL_LINES[i])
      });
      series.push({
        type: "lines", coordinateSystem: "cartesian2d", xAxisIndex: i, yAxisIndex: i, z: 4, silent: true,
        lineStyle: { color: "#000000", width: 4.5, opacity: 1 }, data: segs([FIT_LINES[i]])
      });
    }

    const titles = [
      textEl(Y_TITLE, 24, 190, "center", "middle", 24, { rotation: Math.PI / 2 }),
      textEl(X_TITLE, 658, 418, "center", "middle", 24)
    ];

    const option: any = {
      animation: false,
      backgroundColor: "#ffffff",
      grid: GRIDS.map((g) => ({ ...g, show: true, z: 10, borderColor: "#000", borderWidth: 4, backgroundColor: "transparent" })),
      xAxis: GRIDS.map((_, i) => ({
        type: "value", gridIndex: i, min: X_MIN, max: X_MAX,
        axisLine: { show: false, onZero: false },
        axisTick: { show: true, customValues: X_TICKS, length: 6, lineStyle: { color: "#333", width: 2 } },
        axisLabel: { show: false },
        splitLine: { show: false }
      })),
      yAxis: GRIDS.map((_, i) => ({
        type: "value", gridIndex: i, min: Y_MIN, max: Y_MAX,
        axisLine: { show: false, onZero: false },
        axisTick: { show: i === 0, customValues: Y_TICKS, length: 6, lineStyle: { color: "#333", width: 2 } },
        axisLabel: { show: false },
        splitLine: { show: false }
      })),
      graphic: titles,
      series
    };
    chart.setOption(option);

    // Tick labels placed through the axes' own scales
    const labels: any[] = [];
    for (let i = 0; i < 3; i++) {
      for (const v of X_TICKS) {
        const p = chart.convertToPixel({ gridIndex: i } as any, [v, Y_MIN]) as number[];
        labels.push(textEl(v.toFixed(2), p[0], p[1] + 13.5, "center", "middle", 23));
      }
    }
    for (const v of Y_TICKS) {
      const p = chart.convertToPixel({ gridIndex: 0 } as any, [X_MIN, v]) as number[];
      labels.push(textEl(String(v), p[0] - 9, p[1], "right", "middle", 23));
    }
    chart.setOption({ graphic: [...titles, ...labels] });

    return () => chart.dispose();
  }, []);
  return <div ref={ref} style={{ width: 1244, height: 442 }} />;
}
